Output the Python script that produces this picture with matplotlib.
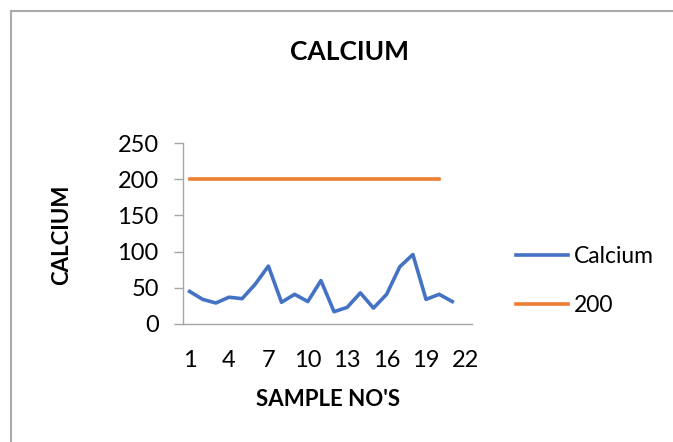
import matplotlib.pyplot as plt
from matplotlib.patches import Rectangle

# sample numbers on the category axis (22 slots, last one empty)
samples = list(range(1, 23))
calcium = [45, 34, 29, 37, 35, 55, 80, 30, 41, 31, 60, 17, 23, 43, 22, 41, 79, 96, 34, 41, 31]
limit = [200] * 20
x_ticks = [1, 4, 7, 10, 13, 16, 19, 22]
y_ticks = [0, 50, 100, 150, 200, 250]

plt.rcParams['font.family'] = ['Lato', 'DejaVu Sans']

W, H = 673, 442
fig = plt.figure(figsize=(W / 100, H / 100), dpi=100)

# chart border (runs off the right and bottom edge like the original)
fig.patches.append(Rectangle((11 / W, -0.1), 1.1, 1.1 - 11 / H, transform=fig.transFigure,
                             fill=False, edgecolor='#ABABAB', linewidth=1.5))

ax = fig.add_axes([183 / W, 118 / H, 289 / W, 181 / H])

ax.plot(samples[:len(calcium)], calcium, color='#4472C4', linewidth=2.6, label='Calcium')
ax.plot(samples[:len(limit)], limit, color='#ED7D31', linewidth=2.6, label='200')

ax.set_xlim(0.5, 22.5)
ax.set_ylim(0, 250)
ax.set_xticks(x_ticks)
ax.set_yticks(y_ticks)

for side in ['top', 'right']:
    ax.spines[side].set_visible(False)
for side in ['left', 'bottom']:
    ax.spines[side].set_color('#A6A6A6')
    ax.spines[side].set_linewidth(1.0)

ax.tick_params(axis='x', length=0, pad=19, labelsize=17)
ax.tick_params(axis='y', length=6.5, width=1.0, color='#A6A6A6', pad=11, labelsize=17)

fig.text(349 / W, 1 - 52 / H, 'CALCIUM', ha='center', va='center', fontsize=19, fontweight='bold')
fig.text(328 / W, 1 - 400 / H, "SAMPLE NO'S", ha='center', va='center', fontsize=16, fontweight='bold')
fig.text(62 / W, 1 - 235 / H, 'CALCIUM', ha='center', va='center', fontsize=16, fontweight='bold',
         rotation=90)

fig.legend(loc='center left', bbox_to_anchor=(495 / W, 1 - 281 / H), frameon=False, fontsize=16.5,
           handlelength=2.3, handletextpad=0.25, labelspacing=1.2)

fig.savefig('out.png', dpi=100)
